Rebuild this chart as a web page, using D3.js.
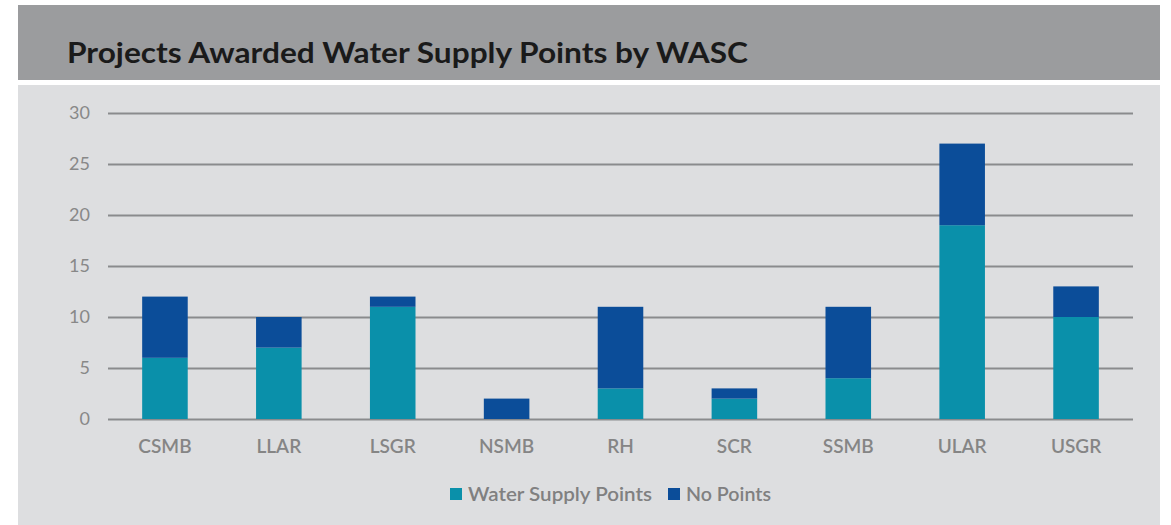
<!DOCTYPE html>
<html>
<head>
<meta charset="utf-8">
<script src="https://cdn.jsdelivr.net/npm/d3@7"></script>
<style>
  body { margin: 0; background: #fff; }
  text { font-family: Lato, "Open Sans", sans-serif; }
</style>
</head>
<body>
<svg id="canvas"></svg>
<script>
const width = 1171, height = 525;

const categories = ["CSMB", "LLAR", "LSGR", "NSMB", "RH", "SCR", "SSMB", "ULAR", "USGR"];
const waterSupplyPoints = [6, 7, 11, 0, 3, 2, 4, 19, 10];
const noPoints = [6, 3, 1, 2, 8, 1, 7, 8, 3];
const yTicks = [0, 5, 10, 15, 20, 25, 30];
const seriesNames = ["Water Supply Points", "No Points"];
const colors = ["#0a90aa", "#0b4d99"];

/* table for the stack */
const rows = categories.map((c, i) => ({
  cat: c,
  "Water Supply Points": waterSupplyPoints[i],
  "No Points": noPoints[i]
}));

const svg = d3.select("#canvas")
  .attr("width", width)
  .attr("height", height);

/* title band and panel */
svg.append("rect")
  .attr("x", 18).attr("y", 5).attr("width", 1142).attr("height", 75)
  .attr("fill", "#9b9c9e");
svg.append("rect")
  .attr("x", 18).attr("y", 85).attr("width", 1142).attr("height", 440)
  .attr("fill", "#dddee0");

svg.append("text")
  .attr("x", 67).attr("y", 63)
  .attr("font-size", 29)
  .attr("font-weight", 700)
  .attr("fill", "#1a1a1a")
  .attr("textLength", 681)
  .attr("lengthAdjust", "spacingAndGlyphs")
  .text("Projects Awarded Water Supply Points by WASC");

const x = d3.scaleBand()
  .domain(categories)
  .range([108, 1133])
  .paddingInner(0.6)
  .paddingOuter(0.3);

const y = d3.scaleLinear()
  .domain([0, 30])
  .range([419, 113]);

/* gridlines */
svg.append("g")
  .attr("transform", "translate(108,0)")
  .call(d3.axisLeft(y).tickValues(yTicks).tickSize(-1025).tickPadding(18))
  .call(g => g.select(".domain").remove())
  .call(g => g.selectAll("line").attr("stroke", "#8a8b8d").attr("stroke-width", 2))
  .call(g => g.selectAll("text").attr("fill", "#888888").attr("font-size", 18)
    .attr("font-family", "Lato, 'Open Sans', sans-serif"));

const stack = d3.stack().keys(seriesNames);
const layers = stack(rows);

svg.append("g")
  .selectAll("g")
  .data(layers)
  .enter()
  .append("g")
  .attr("fill", (d, i) => colors[i])
  .selectAll("rect")
  .data(d => d)
  .enter()
  .append("rect")
  .attr("x", d => x(d.data.cat))
  .attr("y", d => y(d[1]))
  .attr("width", x.bandwidth())
  .attr("height", d => y(d[0]) - y(d[1]));

/* x axis labels */
svg.append("g")
  .attr("transform", "translate(0,419)")
  .call(d3.axisBottom(x).tickSize(0).tickPadding(21))
  .call(g => g.select(".domain").remove())
  .call(g => g.selectAll("text").attr("fill", "#858585").attr("font-size", 19)
    .attr("font-weight", 600)
    .attr("font-family", "Lato, 'Open Sans', sans-serif"));

/* legend */
const legend = svg.append("g").attr("transform", "translate(450,494)");
const legendX = [0, 218];
const legendW = [184, 85];
seriesNames.forEach((s, i) => {
  legend.append("rect")
    .attr("x", legendX[i]).attr("y", -6).attr("width", 12).attr("height", 12)
    .attr("fill", colors[i]);
  legend.append("text")
    .attr("x", legendX[i] + 18).attr("y", 7)
    .attr("font-size", 19)
    .attr("font-weight", 600)
    .attr("fill", "#808080")
    .attr("textLength", legendW[i])
    .attr("lengthAdjust", "spacingAndGlyphs")
    .text(s);
});
</script>
</body>
</html>
